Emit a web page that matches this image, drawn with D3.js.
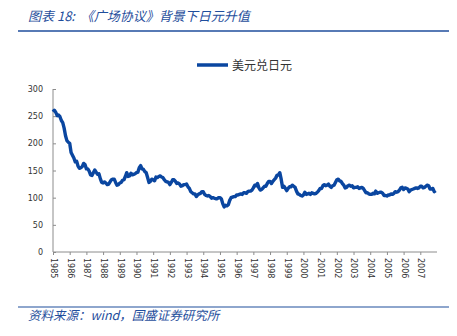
<!DOCTYPE html>
<html><head><meta charset="utf-8">
<script src="https://cdn.jsdelivr.net/npm/d3@7"></script>
<style>body{margin:0;background:#fff}</style>
</head><body><svg id="c" width="457" height="336"></svg>
<script>
const title = "图表 18:  《广场协议》背景下日元升值";
const source = "资料来源：wind，国盛证券研究所";
const seriesName = "美元兑日元";
const startYear = 1985;
const yearLabels = ["1985","1986","1987","1988","1989","1990","1991","1992","1993","1994","1995","1996","1997","1998","1999","2000","2001","2002","2003","2004","2005","2006","2007"];
const yTicks = [0,50,100,150,200,250,300];
// monthly USD/JPY values, Jan 1985 .. Dec 2007
const usdjpy = [
 258,261,257,251,252,249,242,238,228,214,205,202,
 200,183,178,173,166,167,158,154,155,157,163,161,
 153,153,149,142,141,146,151,147,143,144,135,128,
 127,129,127,124,125,129,133,134,134,128,123,124,
 127,128,132,133,139,146,139,140,145,142,143,144,
 146,147,155,159,153,152,148,146,137,128,130,134,
 133,131,138,137,139,140,138,137,133,130,129,128,
 124,128,133,133,130,126,127,125,121,122,124,124,
 125,120,117,111,109,107,107,102,105,107,108,111,
 111,106,104,103,104,102,99,100,99,98,98,100,
 100,98,89,83,86,85,87,95,100,101,102,102,
 105,105,106,107,106,109,109,108,111,112,112,114,
 118,123,122,126,118,114,115,118,121,121,126,130,
 130,126,130,133,136,141,142,146,134,119,121,117,
 113,117,120,120,123,121,119,112,107,106,104,103,
 105,110,106,107,108,106,109,108,107,108,110,113,
 117,117,122,124,122,123,125,121,119,122,123,128,
 133,134,131,130,126,123,118,119,122,123,121,122,
 118,119,119,120,117,118,119,117,113,109,109,107,
 106,106,108,107,112,108,109,110,110,108,104,104,
 103,105,105,107,106,108,111,110,111,114,118,119,
 115,118,117,116,111,114,115,116,117,118,117,118,
 121,121,118,119,121,123,122,116,116,117,111,113
];

const svg = d3.select("#c");
const blue = "#1f4e9c";

svg.append("text").attr("x",28).attr("y",21).attr("fill",blue)
  .attr("font-family","'Noto Sans CJK SC', sans-serif").attr("font-style","italic")
  .attr("font-size",13).attr("xml:space","preserve").text(title);
svg.append("line").attr("x1",18).attr("x2",449).attr("y1",31).attr("y2",31)
  .attr("stroke",blue).attr("stroke-width",1.6);

svg.append("line").attr("x1",18).attr("x2",449).attr("y1",307).attr("y2",307)
  .attr("stroke",blue).attr("stroke-width",1.2);
svg.append("text").attr("x",28).attr("y",319.5).attr("fill",blue)
  .attr("font-family","'Noto Sans CJK SC', sans-serif").attr("font-style","italic")
  .attr("font-size",12.5).text(source);

const x = d3.scaleLinear().domain([startYear, startYear + yearLabels.length]).range([53, 437]);
const y = d3.scaleLinear().domain([0, 300]).range([252, 89]);

// legend
svg.append("line").attr("x1",197).attr("x2",228).attr("y1",65).attr("y2",65)
  .attr("stroke","#0a46a0").attr("stroke-width",3.5);
svg.append("text").attr("x",232).attr("y",69.5).attr("fill","#333")
  .attr("font-family","'Noto Sans CJK SC', sans-serif").attr("font-size",12).text(seriesName);

const axisColor = "#8c8c8c";
const yAxis = svg.append("g").attr("transform","translate(53,0)")
  .call(d3.axisRight(y).tickValues(yTicks).tickSize(3).tickFormat(d3.format("d")));
yAxis.select(".domain").attr("stroke",axisColor).attr("d","M0,89V252");
yAxis.selectAll(".tick line").attr("stroke",axisColor);
yAxis.selectAll(".tick text").attr("x",-10).attr("text-anchor","end")
  .attr("fill","#333").attr("font-family","'DejaVu Sans', sans-serif").attr("font-size",8);

const xAxis = svg.append("g").attr("transform","translate(0,252)")
  .call(d3.axisBottom(x).tickValues(yearLabels.map((d,i)=>startYear+i)).tickSize(3)
    .tickFormat((d,i)=>yearLabels[i]));
xAxis.select(".domain").attr("stroke",axisColor).attr("d","M53,0H437");
xAxis.selectAll(".tick line").attr("stroke",axisColor);
xAxis.selectAll(".tick text").attr("transform","rotate(90)").attr("x",6).attr("y",0)
  .attr("dy","0.32em").attr("text-anchor","start")
  .attr("fill","#333").attr("font-family","'DejaVu Sans', sans-serif").attr("font-size",8);

const line = d3.line().x((d,i)=>x(startYear + i/12)).y(d=>y(d));
svg.append("path").datum(usdjpy).attr("d",line).attr("fill","none")
  .attr("stroke","#0a46a0").attr("stroke-width",3.4).attr("stroke-linejoin","round");
</script></body></html>
